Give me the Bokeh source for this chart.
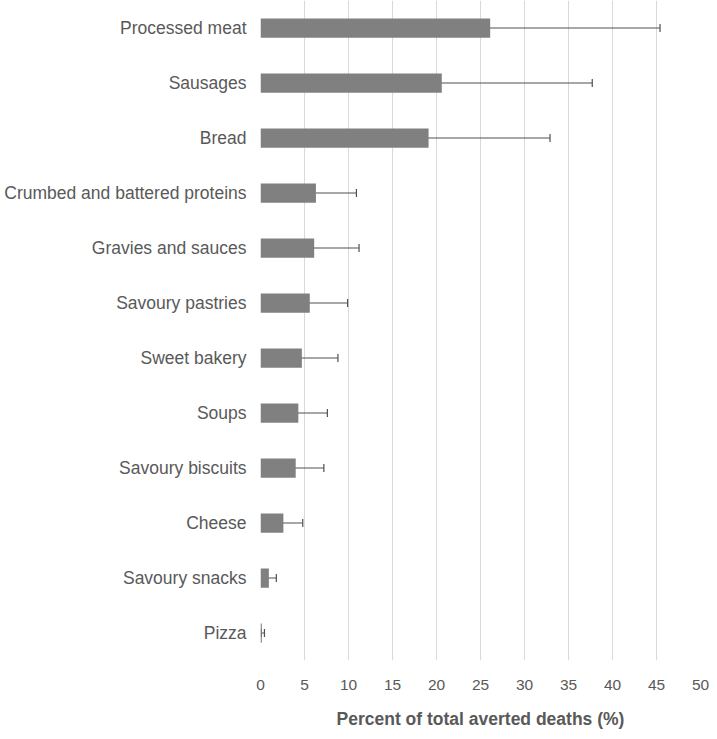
from bokeh.plotting import figure
from bokeh.models import ColumnDataSource, FactorRange, Whisker, TeeHead, FixedTicker, Range1d
from bokeh.embed import file_html
from bokeh.resources import INLINE

categories = ["Processed meat", "Sausages", "Bread", "Crumbed and battered proteins",
              "Gravies and sauces", "Savoury pastries", "Sweet bakery", "Soups",
              "Savoury biscuits", "Cheese", "Savoury snacks", "Pizza"]
values = [26.1, 20.6, 19.1, 6.3, 6.1, 5.6, 4.7, 4.3, 4.0, 2.6, 0.95, 0.15]
lower = [14.7, 11.8, 11.0, 3.6, 3.3, 3.1, 2.4, 2.25, 2.25, 1.5, 0.6, 0.1]
upper = [45.4, 37.7, 32.9, 10.9, 11.2, 9.9, 8.8, 7.6, 7.2, 4.8, 1.8, 0.45]
x_ticks = [0, 5, 10, 15, 20, 25, 30, 35, 40, 45, 50]

src = ColumnDataSource(dict(cat=categories, val=values, lo=lower, hi=upper))

FONT = "Liberation Sans"
TXT = "#595959"

p = figure(width=709, height=731, output_backend="svg", toolbar_location=None,
           y_range=FactorRange(factors=categories[::-1], range_padding=0),
           x_range=Range1d(0, 50),
           min_border_left=260, min_border_right=9, min_border_top=0, min_border_bottom=60)
p.outline_line_color = None
p.background_fill_color = "white"

p.hbar(y="cat", right="val", left=0, height=0.35, source=src,
       fill_color="#808080", line_color=None)

w = Whisker(base="cat", lower="lo", upper="hi", dimension="width", source=src,
            line_color="#505050", line_width=1.2,
            lower_head=TeeHead(size=8, line_color="#505050", line_width=1.2),
            upper_head=TeeHead(size=8, line_color="#505050", line_width=1.2))
p.add_layout(w)

p.xaxis.ticker = FixedTicker(ticks=x_ticks)
p.xgrid.grid_line_color = "#d9d9d9"
p.xgrid.grid_line_width = 1
p.ygrid.grid_line_color = None

p.xaxis.axis_line_color = None
p.xaxis.major_tick_line_color = None
p.xaxis.minor_tick_line_color = None
p.xaxis.major_label_text_font = FONT
p.xaxis.major_label_text_font_size = "15.5px"
p.xaxis.major_label_text_color = TXT
p.xaxis.major_label_standoff = 13
p.xaxis.axis_label = "Percent of total averted deaths (%)"
p.xaxis.axis_label_text_font = FONT
p.xaxis.axis_label_text_font_size = "17.5px"
p.xaxis.axis_label_text_font_style = "bold"
p.xaxis.axis_label_text_color = TXT
p.xaxis.axis_label_standoff = 16

p.yaxis.axis_line_color = None
p.yaxis.major_tick_line_color = None
p.yaxis.minor_tick_line_color = None
p.yaxis.major_tick_out = 0
p.yaxis.major_label_text_font = FONT
p.yaxis.major_label_text_font_size = "17.5px"
p.yaxis.major_label_text_color = TXT
p.yaxis.major_label_standoff = 14

open("out.html", "w").write(file_html(p, INLINE))
